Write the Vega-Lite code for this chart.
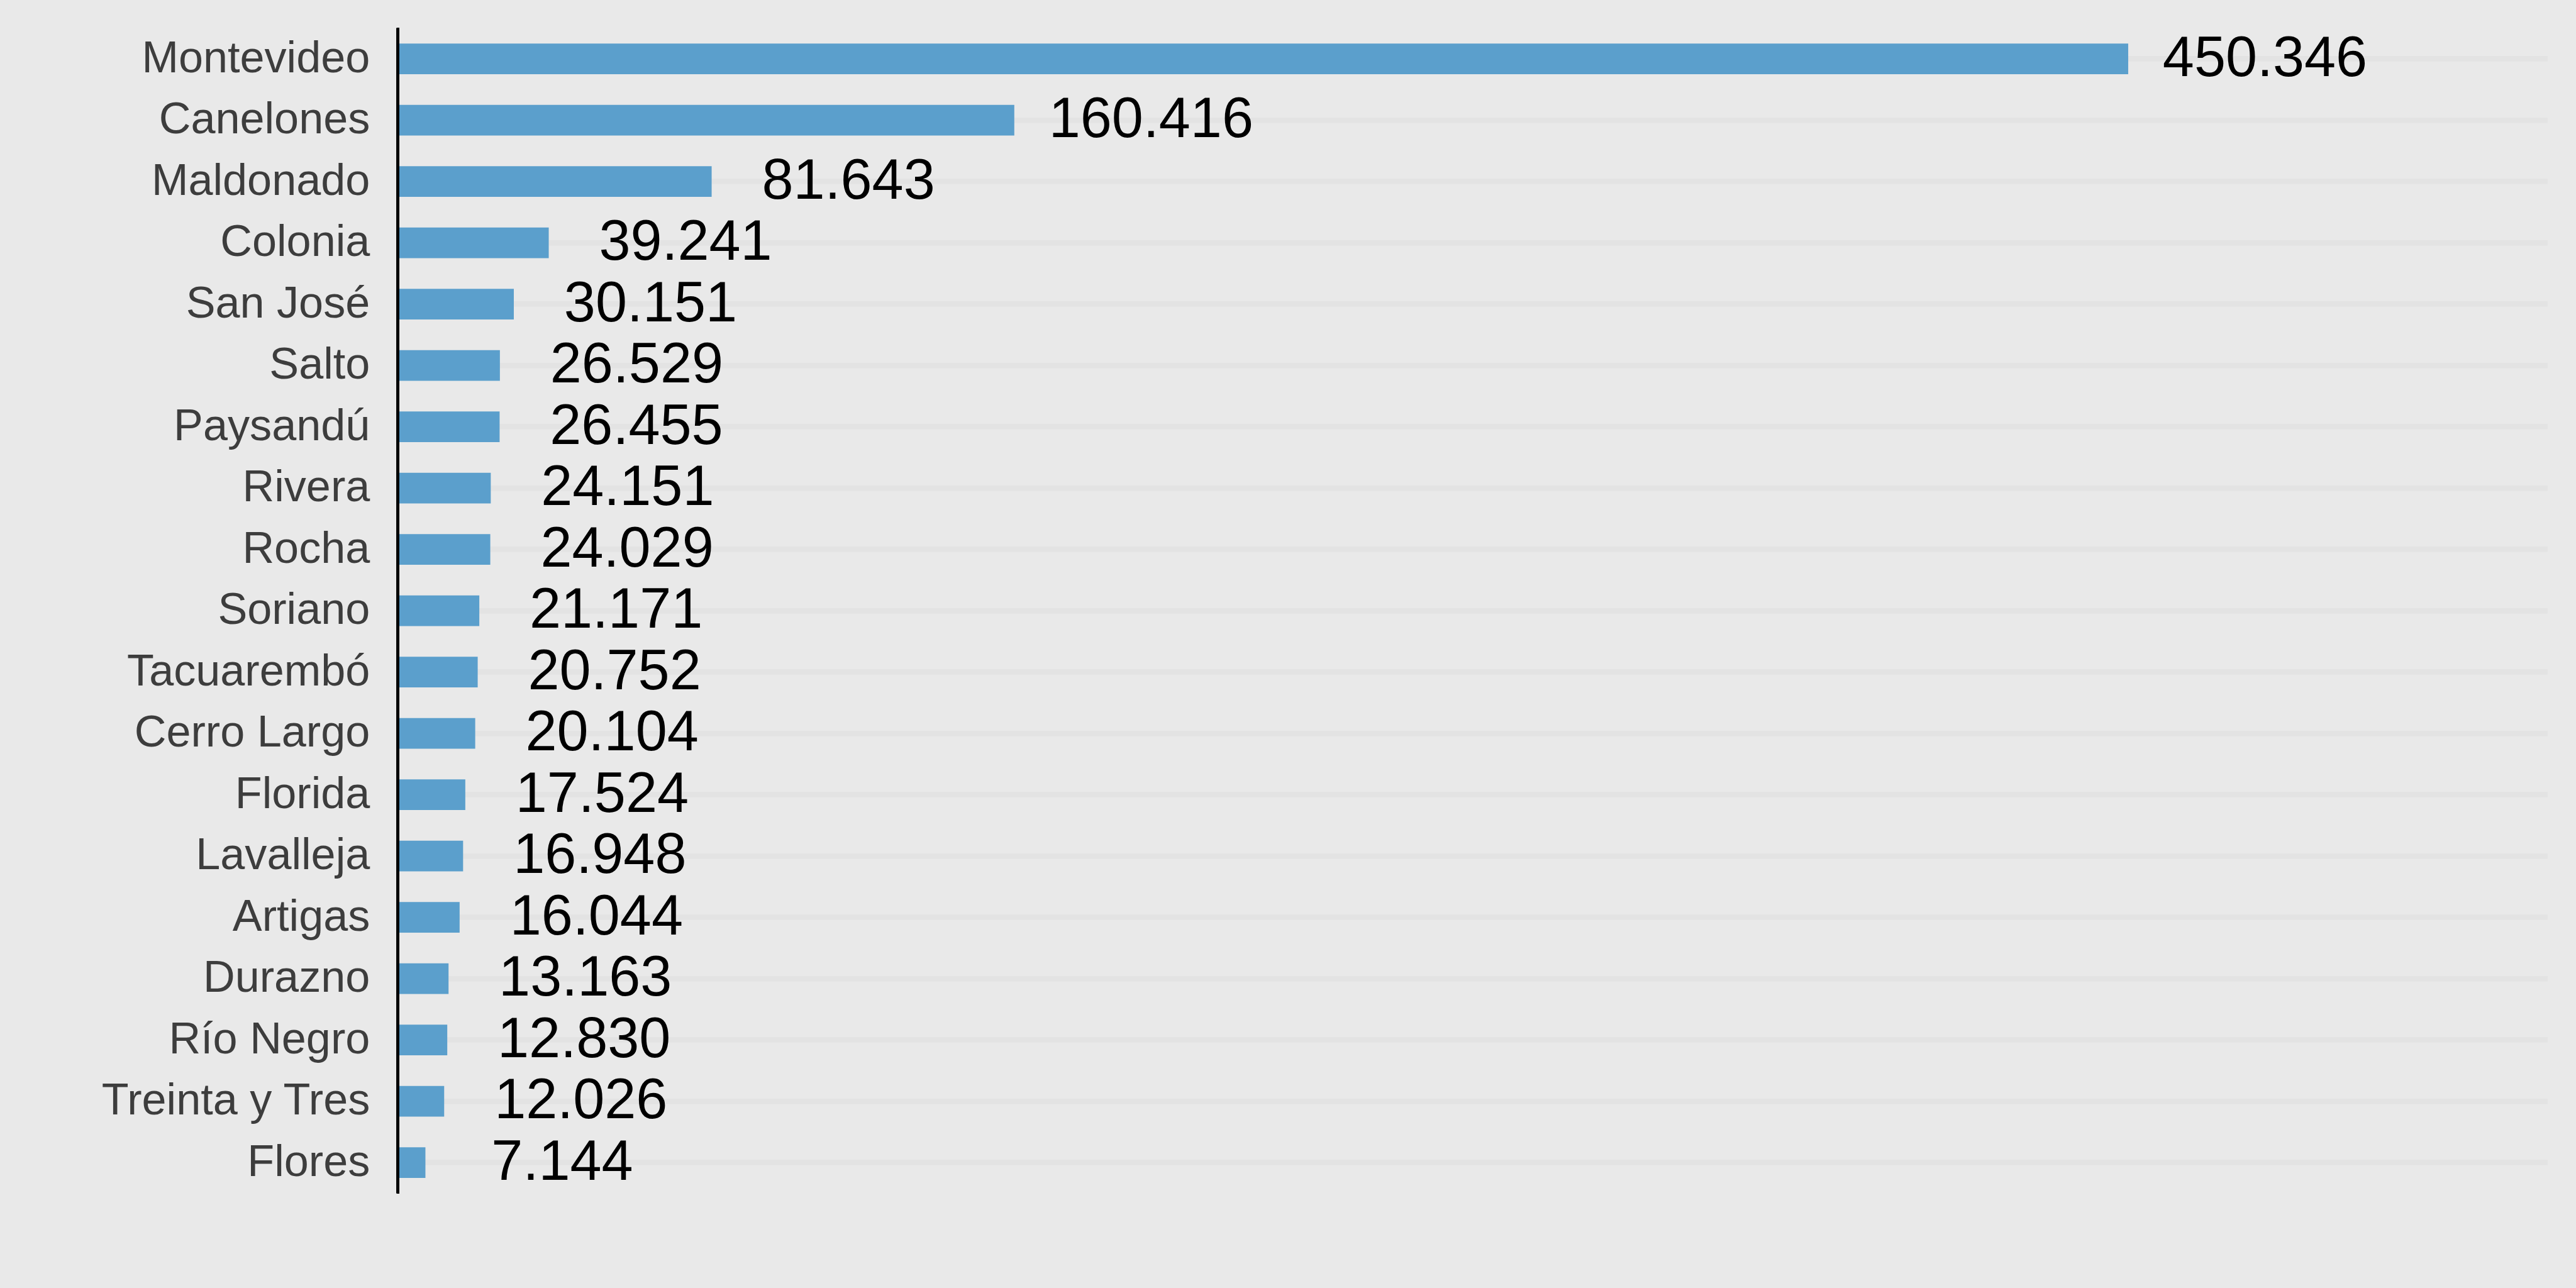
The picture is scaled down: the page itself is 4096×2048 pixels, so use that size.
{
  "$schema": "https://vega.github.io/schema/vega-lite/v6.json",
  "autosize": {"type": "none"},
  "padding": {"left": 632.8, "top": 44.85, "right": 45.8, "bottom": 150.65},
  "width": 3417.4,
  "height": 1852.5,
  "background": "#e9e9e9",
  "config": {"view": {"stroke": null}},
  "data": {
    "values": [
      {"dept": "Montevideo", "value": 450.346, "label": "450.346"},
      {"dept": "Canelones", "value": 160.416, "label": "160.416"},
      {"dept": "Maldonado", "value": 81.643, "label": "81.643"},
      {"dept": "Colonia", "value": 39.241, "label": "39.241"},
      {"dept": "San José", "value": 30.151, "label": "30.151"},
      {"dept": "Salto", "value": 26.529, "label": "26.529"},
      {"dept": "Paysandú", "value": 26.455, "label": "26.455"},
      {"dept": "Rivera", "value": 24.151, "label": "24.151"},
      {"dept": "Rocha", "value": 24.029, "label": "24.029"},
      {"dept": "Soriano", "value": 21.171, "label": "21.171"},
      {"dept": "Tacuarembó", "value": 20.752, "label": "20.752"},
      {"dept": "Cerro Largo", "value": 20.104, "label": "20.104"},
      {"dept": "Florida", "value": 17.524, "label": "17.524"},
      {"dept": "Lavalleja", "value": 16.948, "label": "16.948"},
      {"dept": "Artigas", "value": 16.044, "label": "16.044"},
      {"dept": "Durazno", "value": 13.163, "label": "13.163"},
      {"dept": "Río Negro", "value": 12.830, "label": "12.830"},
      {"dept": "Treinta y Tres", "value": 12.026, "label": "12.026"},
      {"dept": "Flores", "value": 7.144, "label": "7.144"}
    ]
  },
  "encoding": {
    "y": {
      "field": "dept",
      "type": "nominal",
      "sort": null,
      "scale": {"paddingInner": 0.5, "paddingOuter": 0.25},
      "axis": {
        "title": null,
        "domain": false,
        "ticks": false,
        "labelPadding": 45,
        "labelFont": "Liberation Sans",
        "labelFontSize": 70.2,
        "labelColor": "#3d3d3d",
        "labelLimit": 0,
        "grid": true,
        "gridColor": "#e3e3e3",
        "gridWidth": 8.8,
        "bandPosition": 0.5
      }
    }
  },
  "layer": [
    {
      "mark": {"type": "bar", "color": "#5b9fcc"},
      "encoding": {
        "x": {"field": "value", "type": "quantitative", "scale": {"domain": [0, 559.4], "nice": false}, "axis": null}
      }
    },
    {
      "mark": {"type": "text", "align": "center", "baseline": "middle", "dx": 217.5, "font": "Liberation Sans", "fontSize": 90, "color": "#000000"},
      "encoding": {
        "x": {"field": "value", "type": "quantitative"},
        "text": {"field": "label", "type": "nominal"}
      }
    },
    {
      "mark": {"type": "rule", "color": "#000000", "strokeWidth": 3.9},
      "encoding": {
        "x": {"datum": 0, "type": "quantitative"},
        "y": null
      }
    }
  ]
}
